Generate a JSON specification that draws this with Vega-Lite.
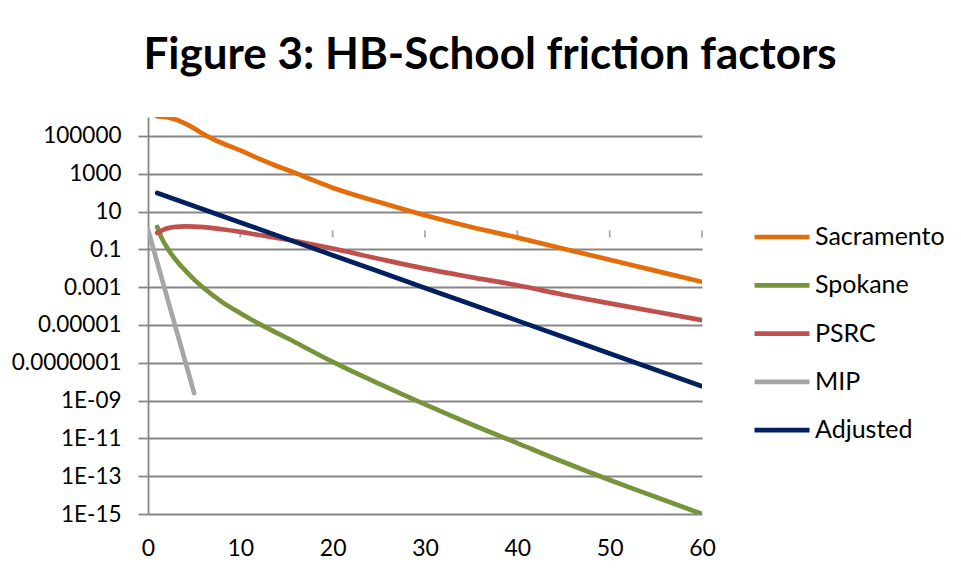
{
  "$schema": "https://vega.github.io/schema/vega-lite/v6.json",
  "width": 554,
  "height": 397,
  "autosize": {"type": "none"},
  "padding": {"left": 148, "top": 117, "right": 259, "bottom": 64},
  "background": "white",
  "title": {
    "text": "Figure 3: HB-School friction factors",
    "font": "Lato",
    "fontSize": 44,
    "fontWeight": "bold",
    "color": "#000000",
    "anchor": "middle",
    "frame": "group",
    "baseline": "bottom",
    "offset": 38,
    "dx": 65,
    "dy": 43
  },
  "config": {
    "view": {"stroke": null},
    "axis": {
      "labelFont": "Lato",
      "labelColor": "#000000",
      "titleFont": "Lato"
    },
    "legend": {
      "labelFont": "Lato",
      "labelColor": "#000000",
      "rowPadding": 5.3
    }
  },
  "encoding": {
    "x": {
      "field": "x",
      "type": "quantitative",
      "scale": {"domain": [0, 60], "nice": false, "zero": false},
      "axis": {
        "title": null,
        "values": [0, 10, 20, 30, 40, 50, 60],
        "grid": false,
        "domain": false,
        "ticks": false,
        "labelFontSize": 23,
        "labelPadding": 23,
        "labelFlush": false
      }
    },
    "y": {
      "field": "y",
      "type": "quantitative",
      "scale": {"type": "log", "domain": [1e-15, 1e6], "nice": false},
      "axis": {
        "title": null,
        "values": [1e-15, 1e-13, 1e-11, 1e-9, 1e-7, 1e-5, 0.001, 0.1, 10, 1000, 100000],
        "labelExpr": "['1E-15','1E-13','1E-11','1E-09','0.0000001','0.00001','0.001','0.1','10','1000','100000'][round((log(datum.value) / LN10 + 15) / 2)]",
        "grid": true,
        "gridColor": "#868686",
        "gridWidth": 1.8,
        "domain": true,
        "domainColor": "#868686",
        "domainWidth": 1.8,
        "ticks": true,
        "tickColor": "#868686",
        "tickWidth": 1.8,
        "tickSize": 10,
        "labelFontSize": 22.5,
        "labelPadding": 17,
        "labelBaseline": "middle",
        "labelFlush": false,
        "labelOverlap": false
      }
    }
  },
  "layer": [
    {
      "data": {"values": [{"y": 1}]},
      "mark": {"type": "rule", "color": "#868686", "strokeWidth": 1.8},
      "encoding": {
        "x": {"datum": 0},
        "x2": {"datum": 60}
      }
    },
    {
      "data": {"values": [{"x": 10, "y": 1}, {"x": 20, "y": 1}, {"x": 30, "y": 1}, {"x": 40, "y": 1}, {"x": 50, "y": 1}, {"x": 60, "y": 1}]},
      "mark": {"type": "tick", "orient": "vertical", "color": "#868686", "size": 7, "thickness": 1.8, "yOffset": 3.5},
      "encoding": {}
    },
    {
      "data": {
        "values": [
          {"series": "Sacramento", "x": 1, "y": 1.07e6},
          {"series": "Sacramento", "x": 2, "y": 9.8e5},
          {"series": "Sacramento", "x": 2.5, "y": 8.7e5},
          {"series": "Sacramento", "x": 3, "y": 7.3e5},
          {"series": "Sacramento", "x": 3.5, "y": 5.9e5},
          {"series": "Sacramento", "x": 4, "y": 4.6e5},
          {"series": "Sacramento", "x": 5, "y": 2.5e5},
          {"series": "Sacramento", "x": 6, "y": 1.26e5},
          {"series": "Sacramento", "x": 7, "y": 6.9e4},
          {"series": "Sacramento", "x": 8, "y": 4.2e4},
          {"series": "Sacramento", "x": 10, "y": 1.7e4},
          {"series": "Sacramento", "x": 12, "y": 6.3e3},
          {"series": "Sacramento", "x": 14, "y": 2.5e3},
          {"series": "Sacramento", "x": 16, "y": 1.07e3},
          {"series": "Sacramento", "x": 18, "y": 430},
          {"series": "Sacramento", "x": 20, "y": 182},
          {"series": "Sacramento", "x": 25, "y": 31.6},
          {"series": "Sacramento", "x": 30, "y": 6.3},
          {"series": "Sacramento", "x": 35, "y": 1.51},
          {"series": "Sacramento", "x": 40, "y": 0.417},
          {"series": "Sacramento", "x": 45, "y": 0.107},
          {"series": "Sacramento", "x": 50, "y": 0.0282},
          {"series": "Sacramento", "x": 55, "y": 0.00724},
          {"series": "Sacramento", "x": 60, "y": 0.00191},

          {"series": "Spokane", "x": 1, "y": 1.55},
          {"series": "Spokane", "x": 1.5, "y": 0.38},
          {"series": "Spokane", "x": 2, "y": 0.138},
          {"series": "Spokane", "x": 2.5, "y": 0.06},
          {"series": "Spokane", "x": 3, "y": 0.0282},
          {"series": "Spokane", "x": 4, "y": 0.00794},
          {"series": "Spokane", "x": 5, "y": 0.00251},
          {"series": "Spokane", "x": 6, "y": 9.3e-4},
          {"series": "Spokane", "x": 8, "y": 1.66e-4},
          {"series": "Spokane", "x": 10, "y": 4.17e-5},
          {"series": "Spokane", "x": 12, "y": 1.17e-5},
          {"series": "Spokane", "x": 15, "y": 2.1e-6},
          {"series": "Spokane", "x": 20, "y": 1.12e-7},
          {"series": "Spokane", "x": 25, "y": 7.9e-9},
          {"series": "Spokane", "x": 30, "y": 6.3e-10},
          {"series": "Spokane", "x": 35, "y": 5.6e-11},
          {"series": "Spokane", "x": 40, "y": 5.6e-12},
          {"series": "Spokane", "x": 45, "y": 5.6e-13},
          {"series": "Spokane", "x": 50, "y": 6.3e-14},
          {"series": "Spokane", "x": 55, "y": 7.9e-15},
          {"series": "Spokane", "x": 60, "y": 1.0e-15},

          {"series": "PSRC", "x": 1, "y": 0.741},
          {"series": "PSRC", "x": 2, "y": 1.26},
          {"series": "PSRC", "x": 3, "y": 1.55},
          {"series": "PSRC", "x": 4, "y": 1.62},
          {"series": "PSRC", "x": 5, "y": 1.58},
          {"series": "PSRC", "x": 6, "y": 1.48},
          {"series": "PSRC", "x": 8, "y": 1.15},
          {"series": "PSRC", "x": 10, "y": 0.832},
          {"series": "PSRC", "x": 12, "y": 0.575},
          {"series": "PSRC", "x": 15, "y": 0.33},
          {"series": "PSRC", "x": 20, "y": 0.11},
          {"series": "PSRC", "x": 25, "y": 0.0316},
          {"series": "PSRC", "x": 30, "y": 0.00955},
          {"series": "PSRC", "x": 35, "y": 0.00339},
          {"series": "PSRC", "x": 40, "y": 0.00126},
          {"series": "PSRC", "x": 45, "y": 3.98e-4},
          {"series": "PSRC", "x": 50, "y": 1.38e-4},
          {"series": "PSRC", "x": 55, "y": 5.0e-5},
          {"series": "PSRC", "x": 60, "y": 1.78e-5},

          {"series": "MIP", "x": 0, "y": 1.1},
          {"series": "MIP", "x": 1, "y": 0.0204},
          {"series": "MIP", "x": 2, "y": 3.8e-4},
          {"series": "MIP", "x": 3, "y": 7.1e-6},
          {"series": "MIP", "x": 4, "y": 1.32e-7},
          {"series": "MIP", "x": 5, "y": 2.5e-9},

          {"series": "Adjusted", "x": 1, "y": 95.5},
          {"series": "Adjusted", "x": 10, "y": 2.63},
          {"series": "Adjusted", "x": 20, "y": 0.049},
          {"series": "Adjusted", "x": 30, "y": 9.1e-4},
          {"series": "Adjusted", "x": 40, "y": 1.7e-5},
          {"series": "Adjusted", "x": 50, "y": 3.1e-7},
          {"series": "Adjusted", "x": 60, "y": 5.75e-9}
        ]
      },
      "mark": {
        "type": "line",
        "strokeWidth": 4.7,
        "strokeCap": "round",
        "strokeJoin": "round",
        "interpolate": "monotone",
        "clip": true
      },
      "encoding": {
        "color": {
          "field": "series",
          "type": "nominal",
          "scale": {
            "domain": ["Sacramento", "Spokane", "PSRC", "MIP", "Adjusted"],
            "range": ["#E46C0A", "#77933C", "#C0504D", "#A6A6A6", "#002060"]
          },
          "legend": {
            "title": null,
            "orient": "none",
            "legendX": 604,
            "legendY": 90,
            "padding": 0,
            "symbolType": "stroke",
            "symbolSize": 3025,
            "symbolStrokeWidth": 4.7,
            "labelFontSize": 25,
            "labelOffset": 3,
            "rowPadding": 5.3
          }
        }
      }
    }
  ]
}
